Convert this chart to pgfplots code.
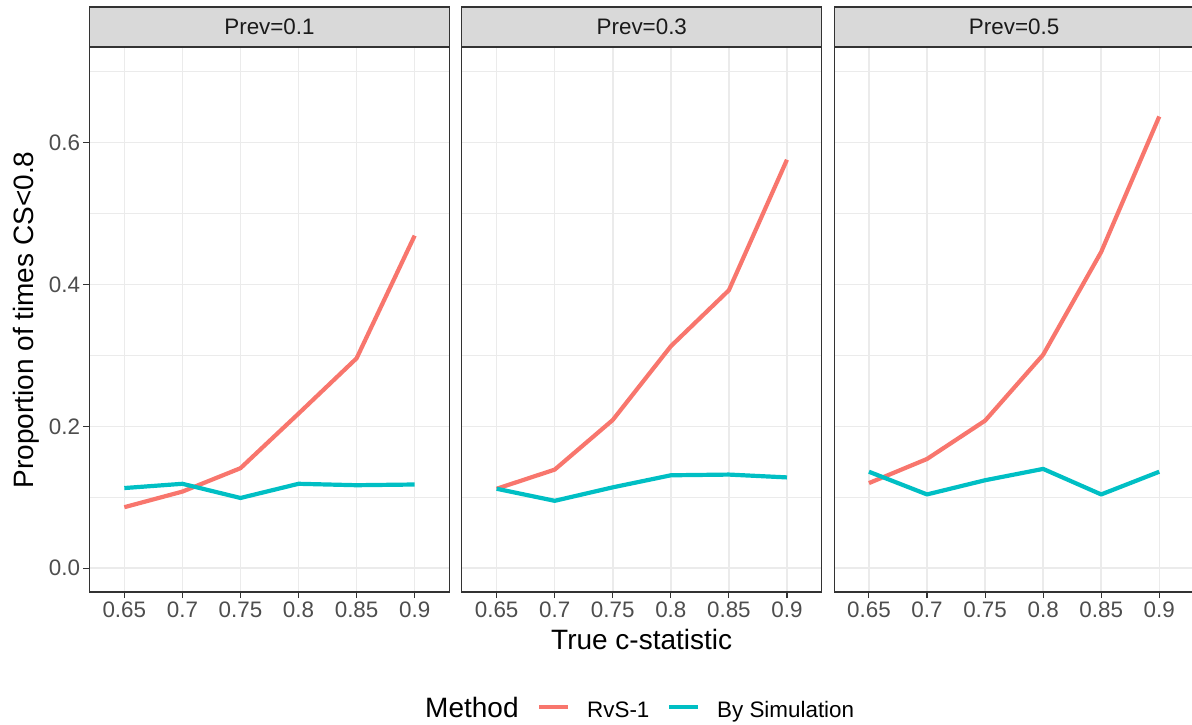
\documentclass[border=0pt]{standalone}
\usepackage{fontspec}
\setmainfont{Liberation Sans}
\usepackage{pgfplots}
\pgfplotsset{compat=1.18}
\usepackage{pgfplotstable}

\definecolor{rvs}{HTML}{F8766D}
\definecolor{sim}{HTML}{00BFC4}
\definecolor{gTwenty}{HTML}{333333}
\definecolor{gThirty}{HTML}{4D4D4D}
\definecolor{gTen}{HTML}{1A1A1A}
\definecolor{gridc}{HTML}{EBEBEB}
\definecolor{stripc}{HTML}{D9D9D9}

% proportion of times CS<0.8, by true c-statistic
\pgfplotstableread{
c     rvs    sim
0.65  0.086  0.113
0.70  0.108  0.119
0.75  0.141  0.099
0.80  0.218  0.119
0.85  0.296  0.117
0.90  0.469  0.118
}\prevA
\pgfplotstableread{
c     rvs    sim
0.65  0.112  0.112
0.70  0.139  0.095
0.75  0.209  0.114
0.80  0.313  0.131
0.85  0.392  0.132
0.90  0.576  0.128
}\prevB
\pgfplotstableread{
c     rvs    sim
0.65  0.120  0.136
0.70  0.154  0.104
0.75  0.208  0.124
0.80  0.301  0.140
0.85  0.446  0.104
0.90  0.637  0.136
}\prevC

\newcommand{\smallfont}{\fontsize{22.4}{26}\selectfont}
\newcommand{\bigfont}{\fontsize{28}{32}\selectfont}

\pgfplotsset{
  panel/.style={
    scale only axis, width=360pt, height=545pt,
    xmin=0.62, xmax=0.93, ymin=-0.0336, ymax=0.735,
    xtick={0.65,0.7,0.75,0.8,0.85,0.9},
    ytick={0,0.2,0.4,0.6},
    minor ytick={0.1,0.3,0.5,0.7},
    grid=both,
    major grid style={gridc, line width=1.5pt},
    minor grid style={gridc, line width=0.8pt},
    axis line style={gTwenty, line width=1.1pt},
    tick align=outside, tick pos=left,
    major tick length=6pt, minor tick length=0pt,
    tick style={gTwenty, line width=1.1pt},
    ticklabel style={font=\smallfont, text=gThirty},
    /pgf/number format/assume math mode=true,
    xticklabel style={/pgf/number format/.cd, fixed, precision=2},
    yticklabel style={/pgf/number format/.cd, fixed, fixed zerofill, precision=1},
    anchor=south west,
  },
  rvsline/.style={rvs, line width=4.2pt, line join=round},
  simline/.style={sim, line width=4.2pt, line join=round},
}

\begin{document}
\begin{tikzpicture}[x=1pt,y=1pt]
\useasboundingbox (0,0) rectangle (1192,724);

\begin{axis}[panel, at={(89.5pt,132pt)}]
  \addplot[rvsline] table[x=c, y=rvs] {\prevA};
  \addplot[simline] table[x=c, y=sim] {\prevA};
\end{axis}

\begin{axis}[panel, at={(461.8pt,132pt)}, yticklabels={}, ytick style={draw=none}]
  \addplot[rvsline] table[x=c, y=rvs] {\prevB};
  \addplot[simline] table[x=c, y=sim] {\prevB};
\end{axis}

\begin{axis}[panel, at={(834.1pt,132pt)}, yticklabels={}, ytick style={draw=none}]
  \addplot[rvsline] table[x=c, y=rvs] {\prevC};
  \addplot[simline] table[x=c, y=sim] {\prevC};
\end{axis}

% facet strips
\foreach \xl/\lab in {89.5/Prev=0.1, 461.8/Prev=0.3, 834.1/Prev=0.5}{
  \filldraw[fill=stripc, draw=gTwenty, line width=1.1pt] (\xl,677) rectangle ({\xl+360},717);
  \node[font=\smallfont, text=gTen, anchor=base] at ({\xl+180},689) {\lab};
}

% axis titles
\node[font=\bigfont, rotate=90, anchor=base] at (33,404) {Proportion of times CS<0.8};
\node[font=\bigfont, anchor=base] at (641.7,75) {True c-statistic};

% legend
\node[font=\bigfont, anchor=base west, inner sep=0pt] at (425,6.7) {Method};
\draw[rvs, line width=4.2pt] (539,17) -- (568,17);
\node[font=\smallfont, anchor=base west, inner sep=0pt] at (587,6.7) {RvS-1};
\draw[sim, line width=4.2pt] (669,17) -- (698,17);
\node[font=\smallfont, anchor=base west, inner sep=0pt] at (717,6.7) {By Simulation};
\end{tikzpicture}
\end{document}
